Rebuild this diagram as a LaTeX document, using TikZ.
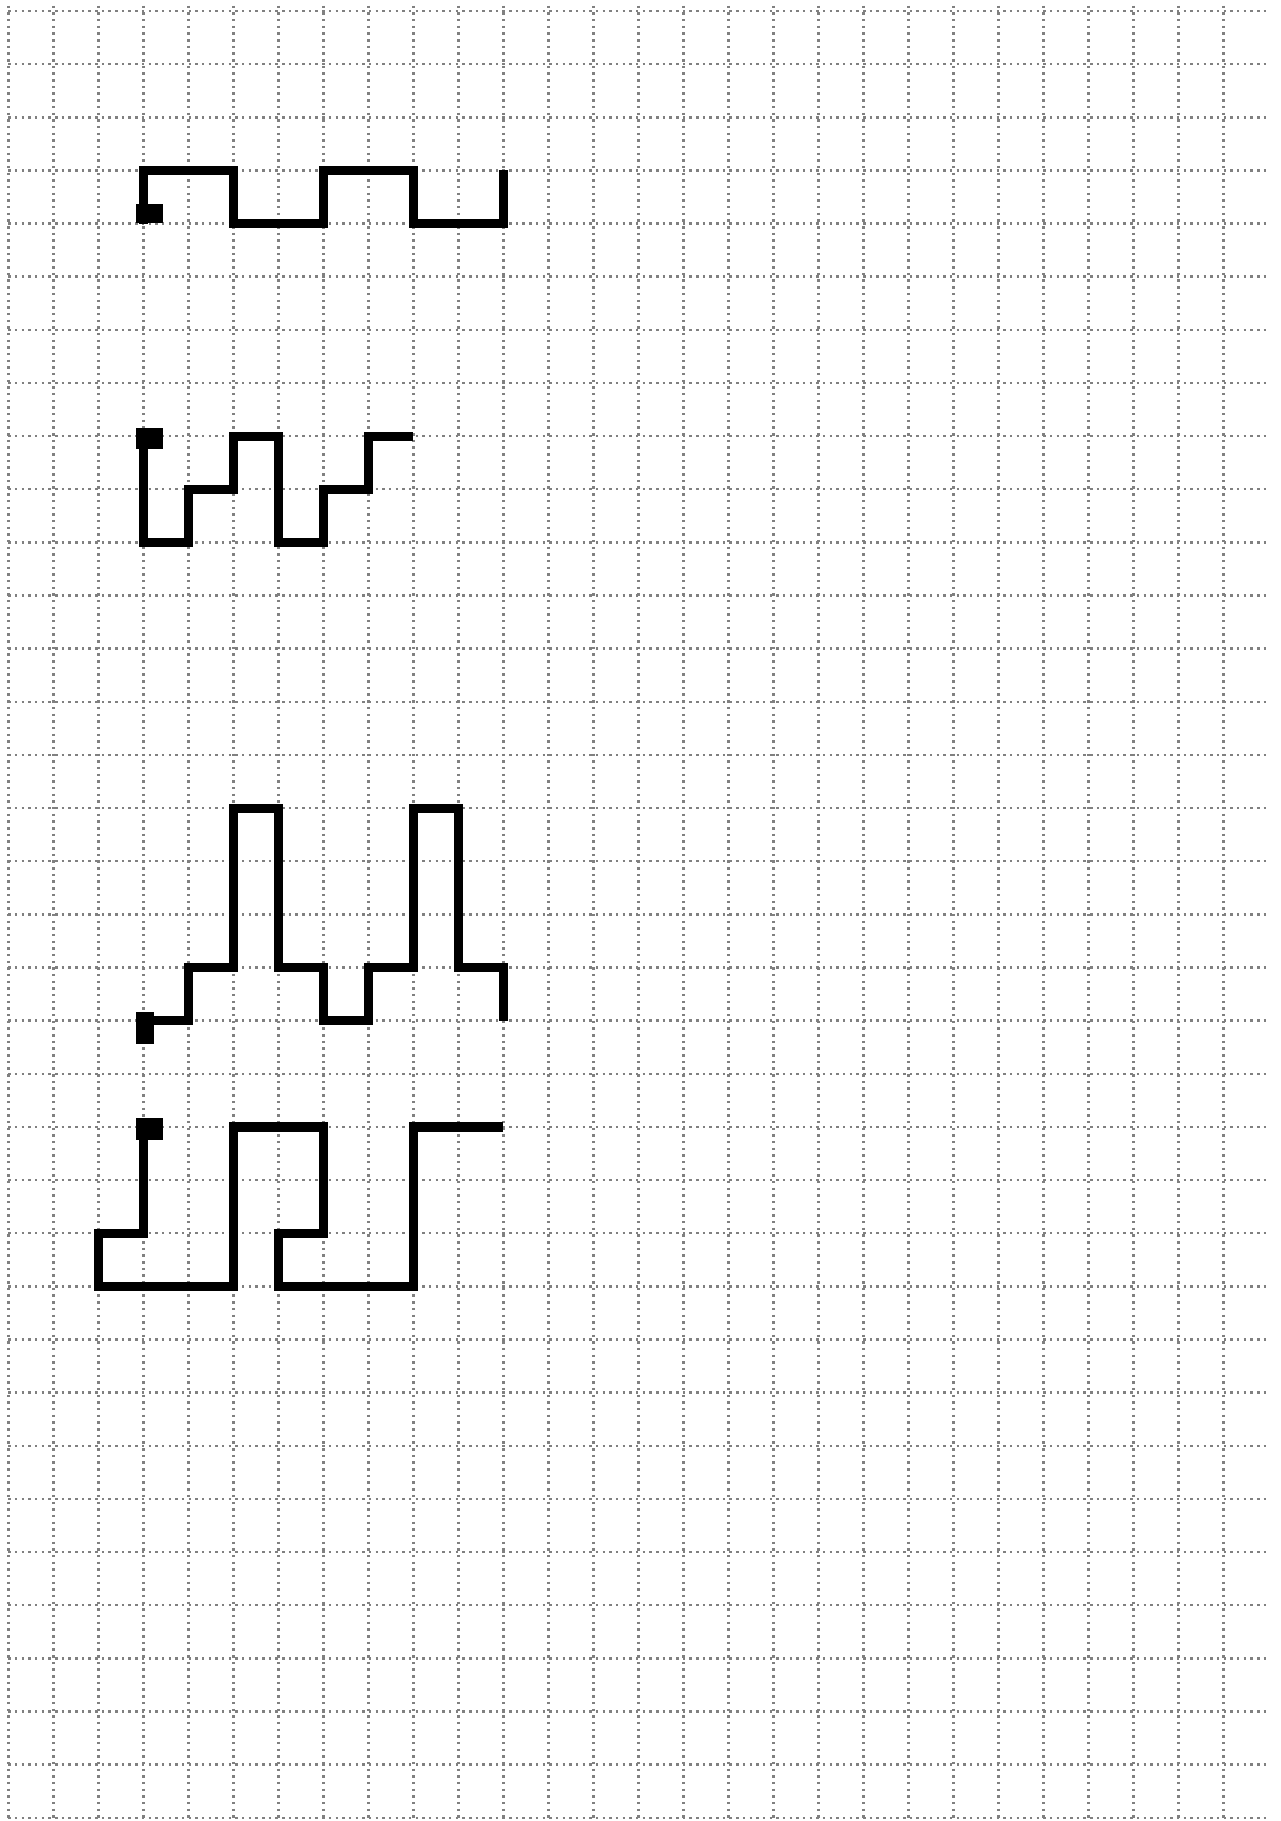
\documentclass[tikz,border=0pt]{standalone}
\usepackage{tikz}
\begin{document}
\begin{tikzpicture}[x=0.45cm, y=-0.5314cm,
    gridline/.style={black!50, line width=0.7pt, dash pattern=on 0.7pt off 1.2pt},
    walk/.style={black, line width=2.6pt, line join=miter},
    startbox/.style={black}]
  \useasboundingbox (-0.1844,-0.207) rectangle (28.282,34.061);
  % the squared paper
  \foreach \i in {0,...,27}{
    \draw[gridline] (\i,-0.1) -- (\i,34);}
  \foreach \j in {0,...,34}{
    \draw[gridline] (0,\j) -- (28,\j);}
  % first walk
  \fill[startbox] (2.84,3.63) rectangle (3.43,3.99);
  \draw[walk] (3,4) -- (3,3) -- (5,3) -- (5,4) -- (7,4) -- (7,3) -- (9,3)
    -- (9,4) -- (11,4) -- (11,3);
  % second walk
  \fill[startbox] (2.84,7.85) rectangle (3.43,8.24);
  \draw[walk] (3,8) -- (3,10) -- (4,10) -- (4,9) -- (5,9) -- (5,8) -- (6,8)
    -- (6,10) -- (7,10) -- (7,9) -- (8,9) -- (8,8) -- (9,8);
  % third walk
  \fill[startbox] (2.84,18.83) rectangle (3.24,19.44);
  \draw[walk] (3,19) -- (4,19) -- (4,18) -- (5,18) -- (5,15) -- (6,15)
    -- (6,18) -- (7,18) -- (7,19) -- (8,19) -- (8,18) -- (9,18) -- (9,15)
    -- (10,15) -- (10,18) -- (11,18) -- (11,19);
  % fourth walk
  \fill[startbox] (2.84,20.84) rectangle (3.43,21.25);
  \draw[walk] (3,21) -- (3,23) -- (2,23) -- (2,24) -- (5,24) -- (5,21)
    -- (7,21) -- (7,23) -- (6,23) -- (6,24) -- (9,24) -- (9,21) -- (11,21);
\end{tikzpicture}
\end{document}
